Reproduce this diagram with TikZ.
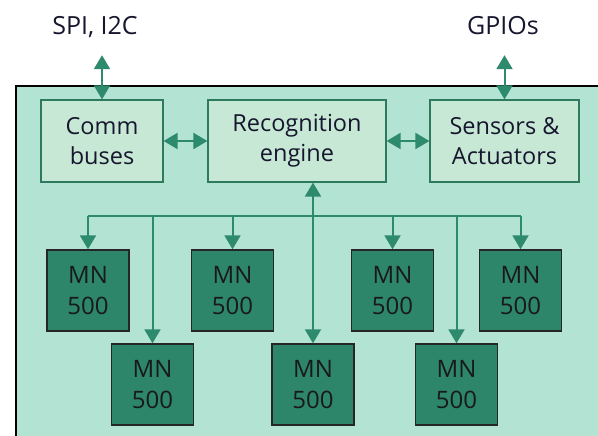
\documentclass[tikz,border=0pt]{standalone}
\usepackage{fontspec}
\setmainfont{Open Sans}
\usepackage{tikz}
\usetikzlibrary{arrows.meta, positioning, calc}
\definecolor{chipbg}{HTML}{B3E3D3}
\definecolor{blockfill}{HTML}{C7E8D4}
\definecolor{blockline}{HTML}{2E7A5F}
\definecolor{wiregreen}{HTML}{2E8A6C}
\definecolor{neuronfill}{HTML}{2D866A}
\definecolor{inktext}{HTML}{16162E}

\begin{document}
\begin{tikzpicture}[
    x=1pt, y=-1pt,
    block/.style={rectangle, draw=blockline, fill=blockfill, line width=1.2pt,
                  minimum height=82pt, align=center, inner sep=0pt,
                  font=\fontsize{23.5}{30}\selectfont, text=inktext},
    neuron/.style={rectangle, draw=black!85, fill=neuronfill, line width=1.4pt,
                   minimum width=82pt, minimum height=81pt, align=center, inner sep=0pt,
                   font=\fontsize{24}{31}\selectfont, text=black!90},
    pinlabel/.style={anchor=base, inner xsep=0pt, inner ysep=20pt, text depth=0pt,
                     font=\fontsize{25}{28}\selectfont, text=inktext},
    wire/.style={draw=wiregreen, line width=2pt},
    oneway/.style={wire, -{Triangle[width=16pt, length=14pt]}},
    twoway/.style={wire, {Triangle[width=16pt, length=14pt]}-{Triangle[width=16pt, length=14pt]}},
]
\useasboundingbox (0,0) rectangle (598,436);
\fill[chipbg] (16,86) rectangle (598,436);
\draw[black, line width=1.5pt] (16,436) -- (16,86) -- (598,86);

\node[block, minimum width=122pt] (comm)    at (102,141)   {Comm\\buses};
\node[block, minimum width=178pt] (engine)  at (297,141)   {Recognition\\engine};
\node[block, minimum width=149pt] (sensors) at (504.5,141) {Sensors \&\\Actuators};

\node[pinlabel] (spi)   at (95,35)  {SPI, I2C};
\node[pinlabel] (gpios) at (503,35) {GPIOs};

\node[neuron] (mn1) at (88,290.5)    {MN\\500};
\node[neuron] (mn2) at (232.5,290.5) {MN\\500};
\node[neuron] (mn3) at (392.5,290.5) {MN\\500};
\node[neuron] (mn4) at (520.5,290.5) {MN\\500};
\node[neuron] (mn5) at (152.5,384.5) {MN\\500};
\node[neuron] (mn6) at (313,384.5)   {MN\\500};
\node[neuron] (mn7) at (456.5,384.5) {MN\\500};

\draw[twoway] (comm.north) -- (comm.north |- spi.south);
\draw[twoway] (sensors.north) -- (sensors.north |- gpios.south);
\draw[twoway] (comm.east) -- (engine.west);
\draw[twoway] (engine.east) -- (sensors.west);

\coordinate (bus) at (0,216);
\draw[wire] (bus -| mn1.north) -- (bus -| mn4.north);
\foreach \n in {mn1, mn2, mn3, mn4, mn5, mn7}
    \draw[oneway] (bus -| \n.north) -- (\n.north);
\draw[twoway] (mn6.north) -- (mn6.north |- engine.south);
\end{tikzpicture}
\end{document}
